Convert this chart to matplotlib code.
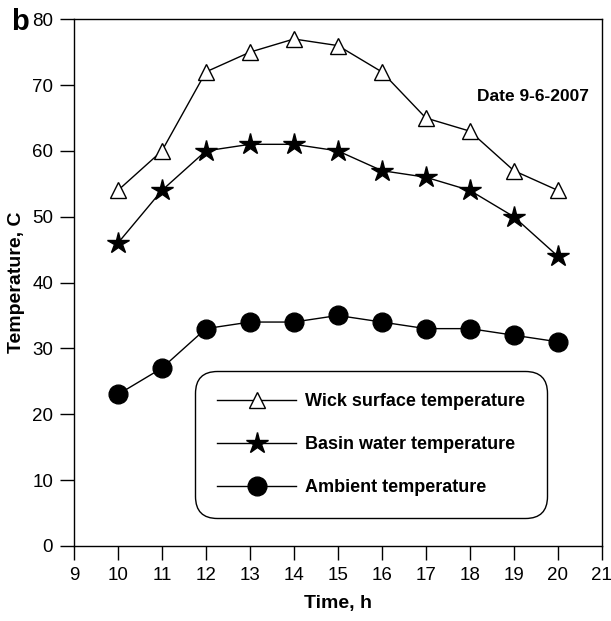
import matplotlib
matplotlib.use('Agg')
import matplotlib.pyplot as plt

plt.rcParams['font.family'] = ['Liberation Sans', 'DejaVu Sans']

hours = [10, 11, 12, 13, 14, 15, 16, 17, 18, 19, 20]
wick = [54, 60, 72, 75, 77, 76, 72, 65, 63, 57, 54]
basin = [46, 54, 60, 61, 61, 60, 57, 56, 54, 50, 44]
ambient = [23, 27, 33, 34, 34, 35, 34, 33, 33, 32, 31]

fig = plt.figure(figsize=(6.11, 6.21), dpi=100)
ax = fig.add_axes([0.121, 0.121, 0.864, 0.848])

ax.plot(hours, wick, color='black', lw=1, marker='^', markersize=12,
        markerfacecolor='white', markeredgecolor='black', markeredgewidth=1,
        label='Wick surface temperature')
ax.plot(hours, basin, color='black', lw=1, marker='*', markersize=16,
        markerfacecolor='black', markeredgecolor='black',
        label='Basin water temperature')
ax.plot(hours, ambient, color='black', lw=1, marker='o', markersize=13.5,
        markerfacecolor='black', label='Ambient temperature')

ax.set_xlim(9, 21)
ax.set_ylim(0, 80)
ax.set_xticks(range(9, 22))
ax.set_yticks(range(0, 81, 10))
ax.tick_params(direction='out', length=10, width=1, labelsize=13.5,
               top=False, right=False, pad=5)
for s in ax.spines.values():
    s.set_linewidth(1)

ax.set_xlabel('Time, h', fontsize=14, fontweight='bold', labelpad=8)
ax.set_ylabel('Temperature, C', fontsize=14, fontweight='bold', labelpad=5)

ax.text(20.7, 68.2, 'Date 9-6-2007', fontsize=12.5, fontweight='bold',
        ha='right', va='center')
fig.text(0.018, 0.965, 'b', fontsize=21, fontweight='bold', ha='left', va='center')

leg = ax.legend(loc='center', bbox_to_anchor=(0.563, 0.192),
                prop={'weight': 'bold', 'size': 13}, frameon=True, fancybox=True,
                edgecolor='black', framealpha=1, borderpad=1.2, labelspacing=1.45,
                handlelength=4.4, handletextpad=0.5, borderaxespad=0)
leg.get_frame().set_linewidth(1)
leg.get_frame().set_boxstyle('round', pad=0, rounding_size=1.2)

fig.savefig('out.png', dpi=100)
